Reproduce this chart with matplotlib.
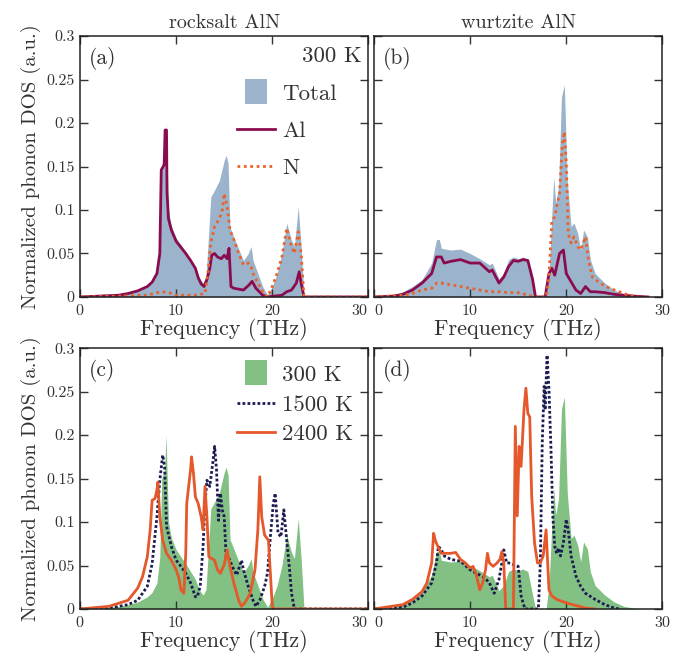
import numpy as np
import matplotlib
matplotlib.use('Agg')
import matplotlib.pyplot as plt
from matplotlib.patches import Patch, Rectangle
from matplotlib.lines import Line2D
from matplotlib.legend_handler import HandlerPatch

plt.rcParams['font.family'] = 'serif'
plt.rcParams['font.serif'] = ['cmr10', 'DejaVu Serif']
plt.rcParams['mathtext.fontset'] = 'cm'
plt.rcParams['axes.unicode_minus'] = False
plt.rcParams['axes.formatter.use_mathtext'] = True

# rocksalt AlN, 300 K (total, Al, N)
rs_tot_f = [0, 2, 4, 5, 6, 7, 7.5, 8, 8.3, 8.5, 8.8, 8.95, 9.05, 9.2, 9.5, 10, 10.5, 11, 11.5, 12,
            12.4, 12.8, 13.1, 13.3, 13.6, 14, 14.5, 15, 15.2, 15.4, 15.6, 16, 16.5, 17, 17.5, 17.8,
            18, 18.5, 19, 19.5, 20, 20.5, 21, 21.5, 22, 22.3, 22.7, 23, 23.3, 30]
rs_tot = [0, 0.001, 0.003, 0.005, 0.008, 0.014, 0.019, 0.03, 0.06, 0.15, 0.16, 0.2, 0.16, 0.1,
          0.082, 0.068, 0.06, 0.052, 0.043, 0.034, 0.022, 0.016, 0.022, 0.058, 0.115, 0.123, 0.134,
          0.157, 0.163, 0.154, 0.08, 0.069, 0.055, 0.042, 0.05, 0.058, 0.042, 0.027, 0.012, 0.002,
          0.012, 0.027, 0.05, 0.085, 0.065, 0.058, 0.104, 0.058, 0, 0]

rs_al_f = [0, 2, 4, 5, 6, 7, 7.5, 8, 8.3, 8.45, 8.75, 8.85, 9.0, 9.05, 9.2, 9.5, 10, 10.5, 11, 11.5,
           12, 12.3, 12.6, 12.9, 13.2, 13.5, 13.7, 14, 14.3, 14.7, 15, 15.3, 15.5, 15.7, 16, 17,
           17.6, 17.9, 18.3, 19, 19.5, 21, 21.5, 22, 22.5, 22.8, 23, 23.3, 30]
rs_al = [0, 0.001, 0.002, 0.004, 0.007, 0.012, 0.017, 0.027, 0.05, 0.146, 0.152, 0.192, 0.192,
         0.12, 0.09, 0.077, 0.064, 0.057, 0.05, 0.042, 0.033, 0.022, 0.015, 0.012, 0.02, 0.033,
         0.048, 0.05, 0.046, 0.044, 0.048, 0.044, 0.056, 0.012, 0.01, 0.008, 0.014, 0.018, 0.01,
         0.002, 0, 0.002, 0.006, 0.008, 0.016, 0.029, 0.016, 0, 0]

rs_n_f = [0, 4, 7, 8, 9, 9.5, 10, 12, 13, 13.3, 13.6, 14, 14.5, 14.8, 15, 15.3, 15.6, 16, 16.5, 17,
          17.5, 17.8, 18, 18.5, 19, 19.5, 20, 20.5, 21, 21.5, 22, 22.3, 22.7, 23, 23.3, 30]
rs_n = [0, 0.001, 0.002, 0.005, 0.006, 0.004, 0.002, 0.002, 0.004, 0.027, 0.062, 0.081, 0.09, 0.1,
        0.119, 0.104, 0.077, 0.066, 0.05, 0.037, 0.039, 0.035, 0.027, 0.016, 0.006, 0, 0.012, 0.027,
        0.046, 0.079, 0.058, 0.05, 0.075, 0.05, 0, 0]

# wurtzite AlN, 300 K (total, Al, N)
wz_tot_f = [0, 2, 3, 4, 5, 6, 6.5, 6.8, 7, 8, 9, 10, 11, 12, 12.3, 13, 13.5, 14, 14.5, 15, 15.5, 16,
            16.5, 16.8, 17.9, 18.2, 18.5, 18.7, 18.9, 19.2, 19.5, 19.8, 20.1, 20.5, 20.8, 21.2, 21.5,
            21.8, 22.2, 22.5, 23, 24, 25, 26, 27, 28, 30]
wz_tot = [0, 0.002, 0.006, 0.012, 0.02, 0.039, 0.066, 0.066, 0.056, 0.054, 0.055, 0.05, 0.044,
          0.037, 0.039, 0.021, 0.027, 0.043, 0.046, 0.044, 0.046, 0.043, 0.016, 0, 0, 0.027, 0.096,
          0.138, 0.108, 0.127, 0.23, 0.244, 0.134, 0.081, 0.085, 0.073, 0.054, 0.077, 0.069, 0.043,
          0.027, 0.016, 0.008, 0.003, 0.001, 0, 0]

wz_al_f = [0, 2, 3, 4, 5, 6, 6.5, 7, 7.3, 8, 9, 10, 11, 12, 12.3, 13, 13.5, 14, 14.5, 15, 15.5, 16,
           16.5, 16.8, 17.8, 18.2, 18.5, 18.8, 19.3, 19.7, 20, 21, 21.5, 22, 22.5, 23, 24, 25, 26,
           27, 28.5]
wz_al = [0, 0.001, 0.003, 0.008, 0.016, 0.027, 0.046, 0.046, 0.039, 0.041, 0.043, 0.039, 0.039,
         0.029, 0.031, 0.016, 0.023, 0.035, 0.042, 0.041, 0.043, 0.042, 0.02, 0, 0, 0.027, 0.033,
         0.025, 0.05, 0.054, 0.027, 0.008, 0.004, 0.012, 0.006, 0.006, 0.005, 0.003, 0.002, 0.001, 0]

wz_n_f = [0, 3, 4, 5, 6, 6.5, 7, 8, 9, 10, 11, 12, 13, 14, 15, 16, 16.8, 17.9, 18.2, 18.5, 18.8, 19,
          19.3, 19.6, 19.8, 20, 20.2, 20.5, 20.8, 21.2, 21.5, 22, 22.3, 22.7, 23.5, 24.5, 25.5,
          26.5, 27.5]
wz_n = [0, 0.002, 0.004, 0.008, 0.01, 0.016, 0.016, 0.014, 0.012, 0.01, 0.008, 0.006, 0.006, 0.005,
        0.005, 0.002, 0, 0, 0.023, 0.088, 0.092, 0.104, 0.119, 0.177, 0.19, 0.154, 0.073, 0.062,
        0.069, 0.058, 0.054, 0.069, 0.043, 0.023, 0.016, 0.01, 0.006, 0.002, 0]

# rocksalt AlN, 1500 K and 2400 K
rs_1500_f = [0, 3, 5, 6, 7, 7.5, 8, 8.3, 8.6, 8.8, 9, 9.5, 10, 10.5, 11, 11.5, 12, 12.2, 12.5, 12.8,
             13, 13.2, 13.5, 13.8, 14, 14.2, 14.4, 14.6, 14.8, 15, 15.2, 15.5, 16, 16.3, 16.8, 17,
             17.5, 18, 18.3, 18.7, 19.2, 19.5, 19.8, 20.1, 20.3, 20.6, 20.9, 21.2, 21.5, 21.8, 22,
             22.3, 30]
rs_1500 = [0, 0.001, 0.005, 0.01, 0.026, 0.052, 0.106, 0.148, 0.177, 0.164, 0.095, 0.072, 0.056,
           0.049, 0.041, 0.03, 0.014, 0.014, 0.026, 0.072, 0.121, 0.148, 0.141, 0.167, 0.187, 0.16,
           0.102, 0.133, 0.114, 0.106, 0.06, 0.058, 0.045, 0.039, 0.056, 0.045, 0.026, 0.01, 0.003,
           0.01, 0.026, 0.041, 0.083, 0.121, 0.133, 0.087, 0.083, 0.114, 0.079, 0.045, 0.018, 0, 0]

rs_2400_f = [0, 3, 5, 6, 6.5, 7, 7.3, 7.5, 7.8, 8, 8.1, 8.3, 8.6, 9, 9.5, 10, 10.3, 10.5, 10.8, 11,
             11.1, 11.3, 11.5, 11.6, 11.8, 12, 12.3, 12.6, 12.8, 13, 13.2, 13.4, 13.7, 14, 14.3,
             14.6, 15, 15.3, 15.6, 16, 16.5, 16.8, 17.2, 17.7, 18.2, 18.5, 18.7, 18.9, 19.2, 19.6,
             19.8, 20, 20.2, 30]
rs_2400 = [0, 0.003, 0.01, 0.024, 0.037, 0.06, 0.091, 0.125, 0.127, 0.137, 0.146, 0.106, 0.079,
           0.064, 0.056, 0.045, 0.035, 0.022, 0.018, 0.064, 0.121, 0.141, 0.16, 0.175, 0.156, 0.129,
           0.121, 0.106, 0.091, 0.141, 0.106, 0.06, 0.058, 0.056, 0.045, 0.041, 0.051, 0.068, 0.049,
           0.03, 0.01, 0.003, 0.008, 0.018, 0.045, 0.091, 0.152, 0.106, 0.085, 0.079, 0.041, 0.003,
           0, 0]

# wurtzite AlN, 1500 K and 2400 K
wz_1500_f = [0, 3, 4, 5, 6, 6.5, 6.7, 7, 7.3, 8, 9, 10, 11, 11.5, 12, 12.5, 13, 13.3, 13.5, 13.8, 14,
             14.5, 15, 15.3, 15.7, 17.1, 17.3, 17.5, 17.7, 17.8, 18, 18.2, 18.4, 18.6, 18.8, 19,
             19.2, 19.4, 19.7, 20, 20.2, 20.5, 21, 21.5, 22, 23, 24, 25, 25.5]
wz_1500 = [0, 0.002, 0.007, 0.015, 0.03, 0.053, 0.072, 0.068, 0.061, 0.057, 0.055, 0.045, 0.039,
           0.036, 0.03, 0.018, 0.034, 0.053, 0.068, 0.053, 0.053, 0.051, 0.049, 0.015, 0, 0, 0.053,
           0.191, 0.256, 0.229, 0.292, 0.252, 0.187, 0.107, 0.072, 0.064, 0.07, 0.061, 0.076, 0.103,
           0.091, 0.061, 0.038, 0.026, 0.018, 0.011, 0.005, 0.001, 0]

wz_2400_f = [0, 3, 4, 5, 5.5, 6, 6.2, 6.4, 6.8, 7, 8, 8.5, 9, 9.5, 10, 10.3, 10.6, 11, 11.3, 11.6,
             11.8, 12, 12.4, 12.8, 13.1, 13.3, 13.5, 13.7, 14.5, 14.7, 14.9, 15.1, 15.3, 15.6, 15.8,
             16, 16.2, 16.4, 16.7, 17, 17.3, 17.6, 17.9, 18.2, 18.5, 19, 20, 21, 22, 23]
wz_2400 = [0, 0.005, 0.011, 0.02, 0.03, 0.053, 0.087, 0.078, 0.068, 0.064, 0.064, 0.065, 0.057,
           0.053, 0.047, 0.049, 0.041, 0.022, 0.03, 0.045, 0.064, 0.053, 0.049, 0.053, 0.057, 0.066,
           0.053, 0, 0, 0.21, 0.107, 0.187, 0.164, 0.229, 0.254, 0.225, 0.221, 0.13, 0.076, 0.053,
           0.053, 0.061, 0.091, 0.022, 0.015, 0.011, 0.007, 0.004, 0.001, 0]

tot_col = '#9cb3cc'
al_col = '#8b0c4e'
n_col = '#e8632b'
g_col = '#82c083'
k1500_col = '#1c1c52'
k2400_col = '#e4582c'
txt = '#333333'
dots_n = (0, (1, 1.3))
dots_k = (0, (1, 0.8))


def small_box(legend, orig_handle, xdescent, ydescent, width, height, fontsize):
    # square-ish patch, narrower than the line handles
    return Rectangle((-xdescent + 0.2 * width, -ydescent - 0.25 * height), 0.6 * width,
                     1.55 * height)


fig = plt.figure(figsize=(6.81, 6.57), dpi=100)
W = 0.4235
H = 0.397
axa = fig.add_axes([0.1175, 0.548, W, H])
axb = fig.add_axes([0.5492, 0.548, W, H])
axc = fig.add_axes([0.1175, 0.0731, W, H])
axd = fig.add_axes([0.5492, 0.0731, W, H])

# top row
axa.fill_between(rs_tot_f, rs_tot, color=tot_col, lw=0)
axa.plot(rs_al_f, rs_al, color=al_col, lw=2)
axa.plot(rs_n_f, rs_n, color=n_col, lw=2, ls=dots_n)
axb.fill_between(wz_tot_f, wz_tot, color=tot_col, lw=0)
axb.plot(wz_al_f, wz_al, color=al_col, lw=2)
axb.plot(wz_n_f, wz_n, color=n_col, lw=2, ls=dots_n)

# bottom row
axc.fill_between(rs_tot_f, rs_tot, color=g_col, lw=0)
axc.plot(rs_1500_f, rs_1500, color=k1500_col, lw=2, ls=dots_k)
axc.plot(rs_2400_f, rs_2400, color=k2400_col, lw=2)
axd.fill_between(wz_tot_f, wz_tot, color=g_col, lw=0)
axd.plot(wz_1500_f, wz_1500, color=k1500_col, lw=2, ls=dots_k)
axd.plot(wz_2400_f, wz_2400, color=k2400_col, lw=2)

for ax, lab in zip([axa, axb, axc, axd], ['(a)', '(b)', '(c)', '(d)']):
    ax.set_xlim(0, 30)
    ax.set_ylim(0, 0.3)
    ax.set_xticks([0, 10, 20, 30])
    ax.set_yticks([0, 0.05, 0.1, 0.15, 0.2, 0.25, 0.3])
    ax.set_yticklabels(['0', '0.05', '0.1', '0.15', '0.2', '0.25', '0.3'])
    ax.tick_params(direction='in', top=True, right=True, length=6, width=1,
                   labelsize=11.5, colors=txt, pad=4)
    for s in ax.spines.values():
        s.set_color('#222222')
        s.set_linewidth(1.1)
    ax.set_xlabel('Frequency (THz)', fontsize=16, color=txt, labelpad=0)
    ax.text(0.03, 0.96, lab, transform=ax.transAxes, ha='left', va='top',
            fontsize=15.5, color=txt)

for ax in [axa, axc]:
    ax.set_ylabel('Normalized phonon DOS (a.u.)', fontsize=15, color=txt, labelpad=4)
    ax.get_xticklabels()[-1].set_ha('right')
for ax in [axb, axd]:
    ax.tick_params(labelleft=False)
    ax.get_xticklabels()[0].set_ha('left')

axa.set_title('rocksalt AlN', fontsize=14.5, color=txt, pad=6)
axb.set_title('wurtzite AlN', fontsize=14.5, color=txt, pad=6)

axa.text(0.978, 0.96, '300 K', transform=axa.transAxes, ha='right', va='top',
         fontsize=16.5, color=txt)

h_a = [Patch(facecolor=tot_col, edgecolor='none'),
       Line2D([], [], color=al_col, lw=2),
       Line2D([], [], color=n_col, lw=2, ls=dots_n)]
leg = axa.legend(h_a, ['Total', 'Al', 'N'], loc='upper left', bbox_to_anchor=(0.545, 0.818),
                 frameon=False, fontsize=16.5, handlelength=1.65, handletextpad=0.3,
                 labelspacing=0.74, borderaxespad=0, borderpad=0,
                 handler_map={Patch: HandlerPatch(patch_func=small_box)})
for t in leg.get_texts():
    t.set_color(txt)

h_c = [Patch(facecolor=g_col, edgecolor='none'),
       Line2D([], [], color=k1500_col, lw=2, ls=dots_k),
       Line2D([], [], color=k2400_col, lw=2)]
leg = axc.legend(h_c, ['300 K', '1500 K', '2400 K'], loc='upper left',
                 bbox_to_anchor=(0.545, 0.935), frameon=False, fontsize=16.5, handlelength=1.65,
                 handletextpad=0.3, labelspacing=0.42, borderaxespad=0, borderpad=0,
                 handler_map={Patch: HandlerPatch(patch_func=small_box)})
for t in leg.get_texts():
    t.set_color(txt)

fig.savefig('out.png', dpi=100)
